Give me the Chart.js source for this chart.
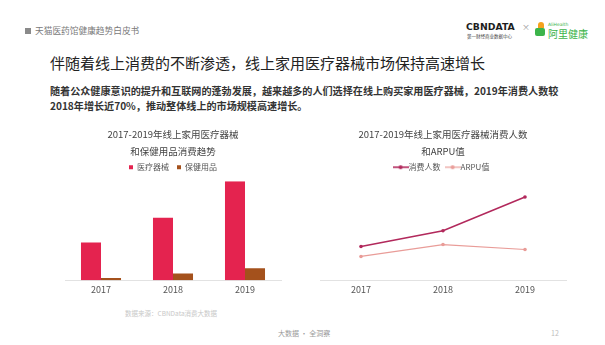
<!DOCTYPE html>
<html lang="zh">
<head>
<meta charset="utf-8">
<script src="https://cdn.jsdelivr.net/npm/chart.js@4.4.1/dist/chart.umd.min.js"></script>
<style>
  html, body { margin: 0; padding: 0; background: #fff; }
  body { width: 605px; height: 345px; position: relative; overflow: hidden;
         font-family: "Noto Sans CJK SC", "Noto Sans", sans-serif; }
  .abs { position: absolute; white-space: nowrap; }
  #hdrMark { left: 25px; top: 28px; width: 6px; height: 6px; background: #8a8a8a; }
  #hdrText { left: 35px; top: 25px; font-size: 8.7px; color: #7a7a7a; line-height: 12px; }
  #headline { left: 50px; top: 52px; font-size: 15px; color: #222; line-height: 22px; }
  #intro { left: 50px; top: 83px; font-size: 10.1px; font-weight: bold; color: #333; line-height: 15px; }
  #cbn { left: 466px; top: 21px; font-size: 9.3px; font-weight: bold; color: #1d1d1d; letter-spacing: 0px; line-height: 11px; font-family: "DejaVu Sans", sans-serif; }
  #cbnSub { left: 467px; top: 34px; font-size: 4.5px; color: #444; line-height: 5px; }
  #times { left: 522px; top: 22px; font-size: 8px; color: #999; line-height: 10px; }
  #aliIcon1 { left: 538px; top: 22px; width: 6px; height: 6px; background: #f4a21c; border-radius: 3px 3px 0 0; }
  #aliIcon2 { left: 535px; top: 28px; width: 10px; height: 8px; background: #3cb44a; border-radius: 2px; }
  #aliEn { left: 548px; top: 22px; font-size: 4.5px; color: #3cb44a; line-height: 5px; font-family: "DejaVu Sans", sans-serif; }
  #aliCn { left: 548px; top: 28px; font-size: 10px; color: #3cb44a; line-height: 11px; }
  #source { left: 125px; top: 309px; font-size: 6.5px; color: #c8c8c8; line-height: 8px; }
  #footer { left: 278px; top: 329px; font-size: 7px; color: #9a9a9a; line-height: 9px; }
  #pageNo { left: 551px; top: 329px; font-size: 7px; color: #bdbdbd; line-height: 9px; }
  #leftBox { left: 60px; top: 125px; width: 225px; height: 178px; }
  #rightBox { left: 315px; top: 125px; width: 255px; height: 178px; }
  canvas { display: block; }
</style>
</head>
<body>
<div class="abs" id="hdrMark"></div>
<div class="abs" id="hdrText">天猫医药馆健康趋势白皮书</div>
<div class="abs" id="headline">伴随着线上消费的不断渗透，线上家用医疗器械市场保持高速增长</div>
<div class="abs" id="intro">随着公众健康意识的提升和互联网的蓬勃发展，越来越多的人们选择在线上购买家用医疗器械，2019年消费人数较<br>2018年增长近70%，推动整体线上的市场规模高速增长。</div>
<div class="abs" id="cbn">CBNDATA</div>
<div class="abs" id="cbnSub">第一财经商业数据中心</div>
<div class="abs" id="times">×</div>
<div class="abs" id="aliIcon1"></div>
<div class="abs" id="aliIcon2"></div>
<div class="abs" id="aliEn">AliHealth</div>
<div class="abs" id="aliCn">阿里健康</div>
<div class="abs" id="source">数据来源：CBNData消费大数据</div>
<div class="abs" id="footer">大数据 · 全洞察</div>
<div class="abs" id="pageNo">12</div>

<div class="abs" id="leftBox"><canvas id="spendChart" width="225" height="178"></canvas></div>
<div class="abs" id="rightBox"><canvas id="userChart" width="255" height="178"></canvas></div>

<script>
// Years shown on both charts
const years = ['2017', '2018', '2019'];

// Left chart: consumption trend (relative index)
const medicalDevices = [38, 63, 100];
const healthProducts = [2.3, 6.7, 12];

// Right chart: number of consumers and ARPU (relative index)
const consumers = [34, 50, 84];
const arpu = [24, 36, 31];

const FONT = '"Noto Sans CJK SC", "Noto Sans", sans-serif';
const RED = '#e4234f';
const BROWN = '#a4511c';
const PLUM = '#b2295c';
const SALMON = '#e99c98';

// Legend marker: short line with a dot in the middle
function lineMarker(color, width) {
  const c = document.createElement('canvas');
  c.width = 16; c.height = 6;
  const g = c.getContext('2d');
  g.strokeStyle = color; g.lineWidth = width;
  g.beginPath(); g.moveTo(0, 3); g.lineTo(16, 3); g.stroke();
  g.fillStyle = color;
  g.beginPath(); g.arc(8, 3, 2, 0, Math.PI * 2); g.fill();
  return c;
}

const titleOpts = (lines) => ({
  display: true,
  text: lines,
  color: '#444',
  font: { family: FONT, size: 9.5, weight: 'normal', lineHeight: 1.8 },
  padding: { top: 1, bottom: -5 }
});

const xAxis = {
  offset: true,
  grid: { display: false, drawTicks: false },
  border: { display: true, color: '#e2e2e2', width: 1 },
  ticks: { color: '#555', font: { family: FONT, size: 9 }, padding: 4 }
};

new Chart(document.getElementById('spendChart'), {
  type: 'bar',
  data: {
    labels: years,
    datasets: [
      { label: '医疗器械', data: medicalDevices, backgroundColor: RED },
      { label: '保健用品', data: healthProducts, backgroundColor: BROWN }
    ]
  },
  options: {
    responsive: false,
    animation: false,
    categoryPercentage: 0.556,
    barPercentage: 1,
    layout: { padding: { left: 5, right: 4, top: 0, bottom: 4 } },
    plugins: {
      title: titleOpts(['2017-2019年线上家用医疗器械', '和保健用品消费趋势']),
      legend: {
        display: true,
        labels: {
          color: '#555', font: { family: FONT, size: 8 },
          boxWidth: 4, boxHeight: 4, padding: 8
        }
      },
      tooltip: { enabled: false }
    },
    scales: {
      x: xAxis,
      y: { display: false, min: 0, max: 100 }
    }
  }
});

new Chart(document.getElementById('userChart'), {
  type: 'line',
  data: {
    labels: years,
    datasets: [
      { label: '消费人数', data: consumers, borderColor: PLUM, backgroundColor: PLUM,
        borderWidth: 1.6, pointRadius: 1.8, pointBorderWidth: 0, tension: 0,
        pointStyle: 'circle' },
      { label: 'ARPU值', data: arpu, borderColor: SALMON, backgroundColor: SALMON,
        borderWidth: 1.2, pointRadius: 1.8, pointBorderWidth: 0, tension: 0,
        pointStyle: 'circle' }
    ]
  },
  options: {
    responsive: false,
    animation: false,
    layout: { padding: { left: 5, right: 4, top: 0, bottom: 4 } },
    plugins: {
      title: titleOpts(['2017-2019年线上家用医疗器械消费人数', '和ARPU值']),
      legend: {
        display: true,
        labels: {
          color: '#555', font: { family: FONT, size: 8 }, padding: 8,
          usePointStyle: true,
          generateLabels(chart) {
            return chart.data.datasets.map((ds, i) => ({
              text: ds.label,
              fontColor: '#555',
              pointStyle: lineMarker(ds.borderColor, ds.borderWidth),
              datasetIndex: i,
              hidden: false,
              lineWidth: 0
            }));
          }
        }
      },
      tooltip: { enabled: false }
    },
    scales: {
      x: xAxis,
      y: { display: false, min: 0, max: 100 }
    }
  }
});
</script>
</body>
</html>
